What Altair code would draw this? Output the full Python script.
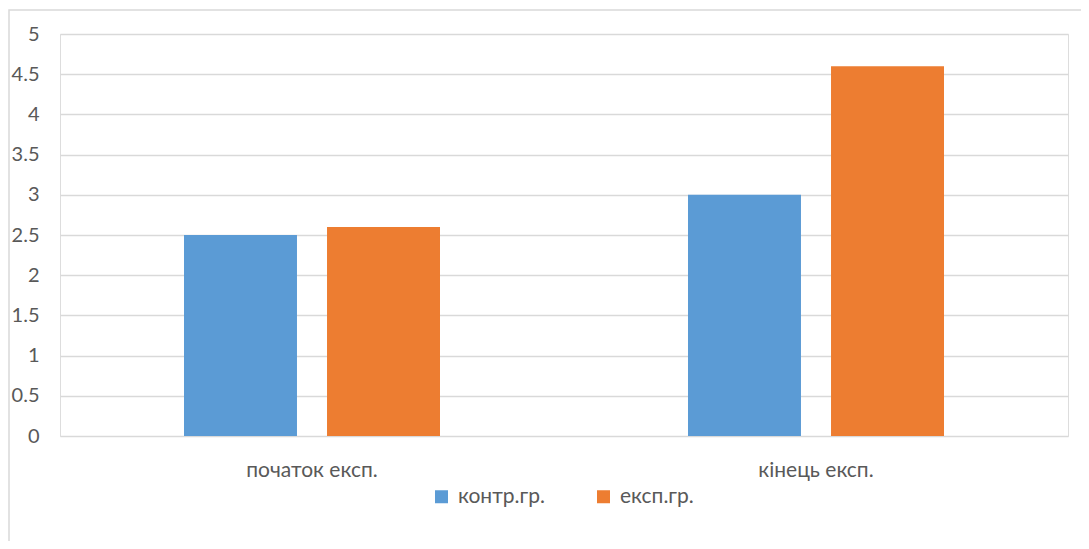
import altair as alt
import pandas as pd

categories = ["початок експ.", "кінець експ."]
series = ["контр.гр.", "експ.гр."]
control_values = [2.5, 3.0]
exp_values = [2.6, 4.6]
colors = ["#5B9BD5", "#ED7D31"]

rows = []
for i, c in enumerate(categories):
    rows.append({"cat": c, "series": series[0], "value": control_values[i]})
    rows.append({"cat": c, "series": series[1], "value": exp_values[i]})
df = pd.DataFrame(rows)

FONT = "Lato"
TXT = "#595959"

bars = alt.Chart(df).mark_bar().encode(
    x=alt.X("cat:N", sort=categories, title=None,
            scale=alt.Scale(paddingInner=0, paddingOuter=0),
            axis=alt.Axis(labelAngle=0, labelPadding=23, ticks=False, domain=False,
                          labelFontSize=21, labelColor=TXT, labelFont=FONT)),
    xOffset=alt.XOffset("series:N", sort=series,
                        scale=alt.Scale(paddingInner=0.21, paddingOuter=0.867)),
    y=alt.Y("value:Q", title=None,
            scale=alt.Scale(domain=[0, 5]),
            axis=alt.Axis(values=[0, 0.5, 1, 1.5, 2, 2.5, 3, 3.5, 4, 4.5, 5],
                          labelExpr="datum.value",
                          ticks=False, domain=False, labelPadding=21,
                          gridColor="#d9d9d9", gridWidth=1.3,
                          labelFontSize=20, labelColor=TXT, labelFont=FONT)),
    color=alt.Color("series:N", sort=series,
                    scale=alt.Scale(domain=series, range=colors),
                    legend=alt.Legend(title=None, orient="none", direction="horizontal",
                                      legendX=371, legendY=452,
                                      symbolType="square", symbolSize=169,
                                      symbolStrokeWidth=0, labelOffset=6,
                                      columnPadding=48,
                                      labelFontSize=21, labelColor=TXT, labelFont=FONT)),
)

border = alt.Chart(pd.DataFrame({"a": [0]})).mark_rect(
    fill=None, stroke="#d9d9d9", strokeWidth=1.5
).encode(
    x=alt.value(-51), x2=alt.value(1100), y=alt.value(-24), y2=alt.value(600)
)

chart = alt.layer(border, bars).properties(
    width=1008, height=402,
    autosize=alt.AutoSizeParams(type="none"),
    padding={"left": 52, "top": 26, "right": 13, "bottom": 105},
).configure_view(stroke=None).configure(background="white")

chart.save("out.html", embed_options={"renderer": "svg", "actions": False})
